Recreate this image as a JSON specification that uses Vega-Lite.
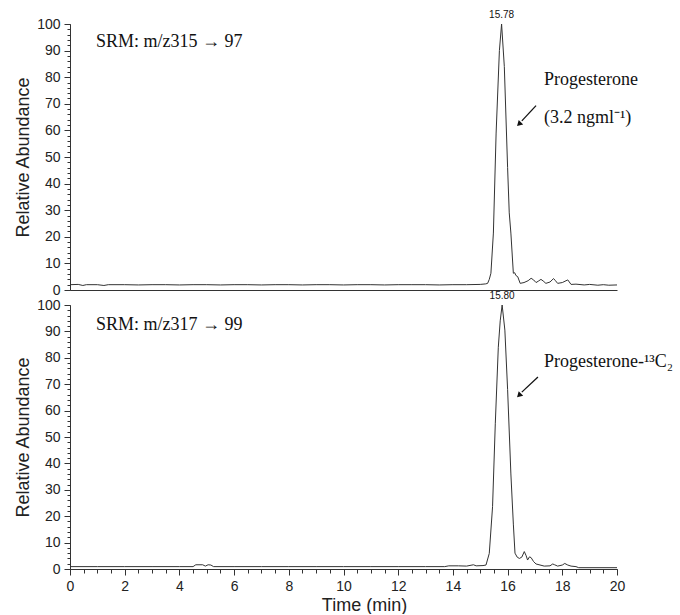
{
  "$schema": "https://vega.github.io/schema/vega-lite/v6.json",
  "background": "white",
  "padding": {"left": 14, "top": 10, "right": 0, "bottom": 0},
  "spacing": 15,
  "bounds": "flush",
  "config": {
    "view": {"stroke": null},
    "axis": {
      "domainColor": "#333", "tickColor": "#333", "labelColor": "#222", "titleColor": "#222",
      "labelFont": "Liberation Sans", "titleFont": "Liberation Sans",
      "labelFontSize": 14, "titleFontSize": 18, "titleFontWeight": "normal", "grid": false,
      "labelOverlap": false, "labelFlush": false
    }
  },
  "datasets": {
    "top": [
      {"t":0,"v":2.0},{"t":0.3,"v":2.1},{"t":0.47,"v":1.7},{"t":0.6,"v":2.0},{"t":1.0,"v":2.0},{"t":1.24,"v":1.7},{"t":1.4,"v":2.0},
      {"t":2,"v":2.0},{"t":2.5,"v":1.9},{"t":3,"v":2.0},{"t":3.5,"v":2.0},{"t":4,"v":1.9},{"t":4.5,"v":2.0},{"t":5,"v":2.0},
      {"t":5.5,"v":1.9},{"t":6,"v":2.0},{"t":6.5,"v":2.0},{"t":7,"v":1.9},{"t":7.5,"v":2.0},{"t":8,"v":2.0},{"t":8.5,"v":1.9},
      {"t":9,"v":2.0},{"t":9.5,"v":2.0},{"t":10,"v":1.9},{"t":10.5,"v":2.0},{"t":11,"v":2.0},{"t":11.5,"v":1.9},{"t":12,"v":2.0},
      {"t":12.5,"v":2.0},{"t":13,"v":2.0},{"t":13.5,"v":1.9},{"t":14,"v":2.0},{"t":14.5,"v":2.0},{"t":15.0,"v":2.1},{"t":15.2,"v":2.3},
      {"t":15.27,"v":2.5},{"t":15.33,"v":4},{"t":15.39,"v":6.3},{"t":15.48,"v":21.4},{"t":15.58,"v":59},{"t":15.70,"v":90},
      {"t":15.78,"v":100},{"t":15.88,"v":84},{"t":16.00,"v":46},{"t":16.06,"v":29},{"t":16.12,"v":21.4},{"t":16.21,"v":6.3},
      {"t":16.26,"v":6.5},{"t":16.30,"v":5.5},{"t":16.37,"v":5},{"t":16.46,"v":2.5},{"t":16.6,"v":2.8},{"t":16.75,"v":3.5},
      {"t":16.86,"v":4.4},{"t":16.95,"v":3.8},{"t":17.04,"v":2.8},{"t":17.12,"v":3.3},{"t":17.22,"v":4.0},{"t":17.30,"v":3.4},
      {"t":17.40,"v":2.5},{"t":17.55,"v":3.0},{"t":17.68,"v":4.3},{"t":17.75,"v":3.5},{"t":17.83,"v":2.5},{"t":18.0,"v":2.8},
      {"t":18.2,"v":3.8},{"t":18.32,"v":2.1},{"t":18.5,"v":2.2},{"t":18.8,"v":1.9},{"t":19.0,"v":2.1},{"t":19.3,"v":1.8},
      {"t":19.5,"v":2.0},{"t":19.7,"v":1.8},{"t":20,"v":1.9}
    ],
    "bottom": [
      {"t":0,"v":0.9},{"t":1,"v":0.9},{"t":2,"v":0.9},{"t":3,"v":0.9},{"t":4,"v":0.9},{"t":4.5,"v":0.9},{"t":4.6,"v":1.6},
      {"t":4.85,"v":1.6},{"t":4.95,"v":1.1},{"t":5.05,"v":1.6},{"t":5.15,"v":1.5},{"t":5.25,"v":0.9},{"t":6,"v":0.9},{"t":7,"v":0.9},
      {"t":8,"v":0.9},{"t":9,"v":0.9},{"t":10,"v":0.9},{"t":11,"v":0.9},{"t":12,"v":0.9},{"t":13,"v":0.9},{"t":13.7,"v":0.9},
      {"t":13.85,"v":1.2},{"t":14.2,"v":1.2},{"t":14.5,"v":1.1},{"t":14.75,"v":1.6},{"t":14.85,"v":1.2},{"t":15.1,"v":1.3},
      {"t":15.21,"v":1.5},{"t":15.33,"v":5.9},{"t":15.45,"v":23.6},{"t":15.55,"v":55},{"t":15.66,"v":84},{"t":15.73,"v":94},
      {"t":15.80,"v":100},{"t":15.90,"v":90.5},{"t":16.00,"v":68},{"t":16.12,"v":36},{"t":16.21,"v":17},{"t":16.27,"v":6},
      {"t":16.35,"v":4.5},{"t":16.43,"v":4},{"t":16.52,"v":4.5},{"t":16.61,"v":6.6},{"t":16.68,"v":5},{"t":16.73,"v":3.4},
      {"t":16.80,"v":4.6},{"t":16.86,"v":4.3},{"t":16.95,"v":2.8},{"t":17.04,"v":1.9},{"t":17.34,"v":1.1},{"t":17.55,"v":1.2},
      {"t":17.65,"v":1.9},{"t":17.72,"v":1.6},{"t":17.83,"v":1.1},{"t":18.0,"v":1.5},{"t":18.09,"v":2.1},{"t":18.2,"v":1.5},
      {"t":18.32,"v":1.1},{"t":18.5,"v":0.9},{"t":18.6,"v":0.5},{"t":20,"v":0.5}
    ]
  },
  "vconcat": [
    {
      "width": 547, "height": 266,
      "resolve": {"axis": {"x": "independent", "y": "independent"}},
      "layer": [
        {
          "data": {"name": "top"},
          "mark": {"type": "line", "color": "#333", "strokeWidth": 1},
          "encoding": {
            "x": {"field": "t", "type": "quantitative", "scale": {"domain": [0, 20], "nice": false},
                  "axis": {"labels": false, "ticks": false, "title": null}},
            "y": {"field": "v", "type": "quantitative", "scale": {"domain": [0, 100], "nice": false},
                  "axis": {"values": [0,10,20,30,40,50,60,70,80,90,100], "title": "Relative Abundance", "tickSize": 6, "labelPadding": 4, "titlePadding": 4}}
          }
        },
        {
          "data": {"name": "top"},
          "mark": {"type": "line", "opacity": 0},
          "encoding": {
            "x": {"field": "t", "type": "quantitative", "axis": null},
            "y": {"field": "v", "type": "quantitative",
                  "axis": {"orient": "left", "values": [0,2,4,6,8,10,12,14,16,18,20,22,24,26,28,30,32,34,36,38,40,42,44,46,48,50,52,54,56,58,60,62,64,66,68,70,72,74,76,78,80,82,84,86,88,90,92,94,96,98,100], "labels": false, "domain": false, "tickSize": 3, "title": null}}
          }
        },
        {
          "data": {"values": [
            {"t": 0.95, "v": 93.2, "label": "SRM: m/z315 → 97"},
            {"t": 17.33, "v": 79, "label": "Progesterone"},
            {"t": 17.33, "v": 64.7, "label": "(3.2 ngml⁻¹)"}
          ]},
          "mark": {"type": "text", "align": "left", "baseline": "middle", "font": "Liberation Serif", "fontSize": 18, "color": "#111"},
          "encoding": {
            "x": {"field": "t", "type": "quantitative", "axis": null},
            "y": {"field": "v", "type": "quantitative", "axis": null},
            "text": {"field": "label"}
          }
        },
        {
          "data": {"values": [{"t": 15.78, "v": 100, "label": "15.78"}]},
          "mark": {"type": "text", "align": "center", "baseline": "middle", "dy": -9, "font": "Liberation Sans", "fontSize": 10, "color": "#111"},
          "encoding": {
            "x": {"field": "t", "type": "quantitative", "axis": null},
            "y": {"field": "v", "type": "quantitative", "axis": null},
            "text": {"field": "label"}
          }
        },
        {
          "data": {"values": [{"t": 17.04, "v": 69.3, "t2": 16.52, "v2": 63.6}]},
          "mark": {"type": "rule", "color": "#111", "strokeWidth": 1.3},
          "encoding": {
            "x": {"field": "t", "type": "quantitative", "axis": null},
            "y": {"field": "v", "type": "quantitative", "axis": null},
            "x2": {"field": "t2"},
            "y2": {"field": "v2"}
          }
        },
        {
          "data": {"values": [{"t": 16.44, "v": 62.6}]},
          "mark": {"type": "point", "shape": "triangle", "angle": 225, "filled": true, "size": 40, "color": "#111", "opacity": 1},
          "encoding": {
            "x": {"field": "t", "type": "quantitative", "axis": null},
            "y": {"field": "v", "type": "quantitative", "axis": null}
          }
        }
      ]
    },
    {
      "width": 547, "height": 264,
      "resolve": {"axis": {"x": "independent", "y": "independent"}},
      "layer": [
        {
          "data": {"name": "bottom"},
          "mark": {"type": "line", "color": "#333", "strokeWidth": 1},
          "encoding": {
            "x": {"field": "t", "type": "quantitative", "scale": {"domain": [0, 20], "nice": false},
                  "axis": {"values": [0,2,4,6,8,10,12,14,16,18,20], "title": "Time (min)", "tickSize": 6, "labelPadding": 4, "titlePadding": 3, "titleX": 294}},
            "y": {"field": "v", "type": "quantitative", "scale": {"domain": [0, 100], "nice": false},
                  "axis": {"values": [0,10,20,30,40,50,60,70,80,90,100], "title": "Relative Abundance", "tickSize": 6, "labelPadding": 4, "titlePadding": 4}}
          }
        },
        {
          "data": {"name": "bottom"},
          "mark": {"type": "line", "opacity": 0},
          "encoding": {
            "x": {"field": "t", "type": "quantitative",
                  "axis": {"orient": "bottom", "values": [0,0.5,1,1.5,2,2.5,3,3.5,4,4.5,5,5.5,6,6.5,7,7.5,8,8.5,9,9.5,10,10.5,11,11.5,12,12.5,13,13.5,14,14.5,15,15.5,16,16.5,17,17.5,18,18.5,19,19.5,20], "labels": false, "domain": false, "tickSize": 4, "title": null}},
            "y": {"field": "v", "type": "quantitative",
                  "axis": {"orient": "left", "values": [0,2,4,6,8,10,12,14,16,18,20,22,24,26,28,30,32,34,36,38,40,42,44,46,48,50,52,54,56,58,60,62,64,66,68,70,72,74,76,78,80,82,84,86,88,90,92,94,96,98,100], "labels": false, "domain": false, "tickSize": 3, "title": null}}
          }
        },
        {
          "data": {"values": [
            {"t": 0.95, "v": 92.5, "label": "SRM: m/z317 → 99"},
            {"t": 17.33, "v": 78.4, "label": "Progesterone-¹³C₂"}
          ]},
          "mark": {"type": "text", "align": "left", "baseline": "middle", "font": "Liberation Serif", "fontSize": 18, "color": "#111"},
          "encoding": {
            "x": {"field": "t", "type": "quantitative", "axis": null},
            "y": {"field": "v", "type": "quantitative", "axis": null},
            "text": {"field": "label"}
          }
        },
        {
          "data": {"values": [{"t": 15.80, "v": 100, "label": "15.80"}]},
          "mark": {"type": "text", "align": "center", "baseline": "middle", "dy": -9, "font": "Liberation Sans", "fontSize": 10, "color": "#111"},
          "encoding": {
            "x": {"field": "t", "type": "quantitative", "axis": null},
            "y": {"field": "v", "type": "quantitative", "axis": null},
            "text": {"field": "label"}
          }
        },
        {
          "data": {"values": [{"t": 17.11, "v": 72.7, "t2": 16.52, "v2": 67.0}]},
          "mark": {"type": "rule", "color": "#111", "strokeWidth": 1.3},
          "encoding": {
            "x": {"field": "t", "type": "quantitative", "axis": null},
            "y": {"field": "v", "type": "quantitative", "axis": null},
            "x2": {"field": "t2"},
            "y2": {"field": "v2"}
          }
        },
        {
          "data": {"values": [{"t": 16.44, "v": 66.0}]},
          "mark": {"type": "point", "shape": "triangle", "angle": 225, "filled": true, "size": 40, "color": "#111", "opacity": 1},
          "encoding": {
            "x": {"field": "t", "type": "quantitative", "axis": null},
            "y": {"field": "v", "type": "quantitative", "axis": null}
          }
        }
      ]
    }
  ]
}
